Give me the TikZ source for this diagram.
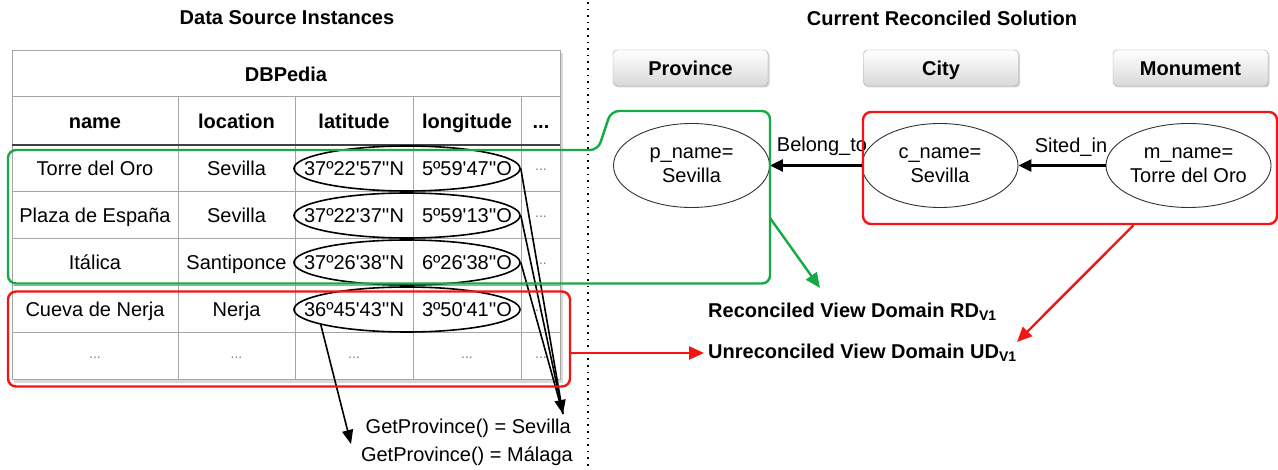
\documentclass[tikz,border=0pt]{standalone}
\usepackage{fontspec}
\setmainfont{Liberation Sans}
\usetikzlibrary{arrows.meta,shapes.geometric,shadows}
\definecolor{gboxc}{RGB}{20,170,70}
\definecolor{rboxc}{RGB}{245,20,20}
\definecolor{tlinec}{RGB}{165,165,165}
\newcommand{\tq}{\textquotesingle}
\begin{document}
\fontsize{20}{24}\selectfont
\begin{tikzpicture}[x=1pt,y=-1pt,
  titletext/.style={font=\bfseries},
  cell/.style={inner sep=0pt,text height=14.4pt,text depth=0pt},
  hcell/.style={inner sep=0pt,font=\bfseries,text height=14.4pt,text depth=0pt},
  dotcell/.style={inner sep=0pt,text=gray,font=\fontsize{14}{16}\selectfont},
  latell/.style={ellipse,draw,line width=1.6pt,minimum width=226pt,minimum height=45pt,inner sep=0pt},
  cat/.style={rounded corners=4pt,draw=gray!70,top color=white,bottom color=gray!30,minimum width=155pt,minimum height=36pt,font=\bfseries,text height=14.4pt,text depth=0pt,inner ysep=0pt,drop shadow={shadow xshift=1.5pt,shadow yshift=-1.5pt,opacity=.35}},
  inst/.style={ellipse,draw=black!80,fill=white,line width=0.9pt,minimum width=156pt,minimum height=84pt,inner sep=0pt,align=center},
  rel/.style={line width=2.5pt,-{Triangle[length=13pt,width=12pt]}},
  blk/.style={line width=1.6pt},
  blkarr/.style={line width=1.6pt,-{Triangle[length=14pt,width=11pt]}},
  gline/.style={draw=gboxc,line width=2.4pt,rounded corners=8pt},
  garr/.style={draw=gboxc,line width=2.4pt,-{Triangle[length=15pt,width=13pt]}},
  rarr/.style={draw=rboxc,line width=2.4pt,-{Triangle[length=15pt,width=13pt]}},
  rboxst/.style={draw=rboxc,line width=2.4pt,rounded corners=8pt,inner sep=0pt},
  lbl/.style={inner sep=0pt}
]
\useasboundingbox (0,0) rectangle (1278,470);

% separator
\draw[line width=1.6pt,dash pattern=on 1.6pt off 5pt] (588,2) -- (588,470);

% titles
\node[titletext] (ttl1) at (287,18) {Data Source Instances};
\node[titletext] (ttl2) at (942,18) {Current Reconciled Solution};

% table
\fill[gray!30] (14,53) rectangle (563,383);
\fill[white] (12,51) rectangle (560,380);
\draw[tlinec,line width=1pt] (12,51) rectangle (560,380);
\draw[tlinec,line width=1pt] (12,97) -- (560,97) (12,191.5) -- (560,191.5) (12,239) -- (560,239) (12,286) -- (560,286) (12,333) -- (560,333);
\draw[tlinec,line width=1pt] (178,97) -- (178,380) (295,97) -- (295,380) (413,97) -- (413,380) (521.5,97) -- (521.5,380);
\draw[black!75,line width=2.5pt] (12,145) -- (560,145);

\node[hcell] (tdb) at (286,74) {DBPedia};
\node[hcell] (h1) at (95,121) {name};
\node[hcell] (h2) at (236.5,121) {location};
\node[hcell] (h3) at (354,121) {latitude};
\node[hcell] (h4) at (467,121) {longitude};
\node[hcell] (h5) at (541,121) {...};

\node[cell] (a1) at (95,168) {Torre del Oro};
\node[cell] (a2) at (236.5,168) {Sevilla};
\node[cell] (a3) at (354,168) {37º22\tq57\tq\tq N};
\node[cell] (a4) at (467,168) {5º59\tq47\tq\tq O};
\node[dotcell] (a5) at (541,170) {...};

\node[cell] (b1) at (95,215) {Plaza de España};
\node[cell] (b2) at (236.5,215) {Sevilla};
\node[cell] (b3) at (354,215) {37º22\tq37\tq\tq N};
\node[cell] (b4) at (467,215) {5º59\tq13\tq\tq O};
\node[dotcell] (b5) at (541,217) {...};

\node[cell] (c1) at (95,262) {Itálica};
\node[cell] (c2) at (236.5,262) {Santiponce};
\node[cell] (c3) at (354,262) {37º26\tq38\tq\tq N};
\node[cell] (c4) at (467,262) {6º26\tq38\tq\tq O};
\node[dotcell] (c5) at (541,264) {...};

\node[cell] (d1) at (95,309) {Cueva de Nerja};
\node[cell] (d2) at (236.5,309) {Nerja};
\node[cell] (d3) at (354,309) {36º45\tq43\tq\tq N};
\node[cell] (d4) at (467,309) {3º50\tq41\tq\tq O};
\node[dotcell] (d5) at (541,311) {...};

\node[dotcell] (f1) at (95,358) {...};
\node[dotcell] (f2) at (236.5,358) {...};
\node[dotcell] (f3) at (354,358) {...};
\node[dotcell] (f4) at (467,358) {...};
\node[dotcell] (f5) at (541,358) {...};

% ellipses around coordinates
\node[latell] (e1) at (407,168.5) {};
\node[latell] (e2) at (407,215.5) {};
\node[latell] (e3) at (407,262.5) {};
\node[latell] (e4) at (407,309.5) {};

% GetProvince
\node[anchor=east,lbl] (gpS) at (571,428) {GetProvince() = Sevilla};
\node[anchor=east,lbl] (gpM) at (573,456) {GetProvince() = Málaga};
\coordinate (tipS) at (563,414);
\coordinate (tipM) at (351,444);
\draw[blk] (e1.east) -- (tipS);
\draw[blk] (e3.east) -- (tipS);
\draw[blkarr] (e2.east) -- (tipS);
\draw[blkarr] (e4.-170) -- (tipM);

% right side: categories
\node[cat] (catP) at (690.5,68) {Province};
\node[cat] (catC) at (941,68) {City};
\node[cat] (catM) at (1190.5,68) {Monument};

% relation labels
\node[lbl] (lbB) at (822,146) {Belong\_to};
\node[lbl] (lbS) at (1071,147) {Sited\_in};

% instances
\node[inst] (pN) at (691.5,165.5) {p\_name=\\Sevilla};
\node[inst] (cN) at (940,165.5) {c\_name=\\Sevilla};
\node[inst] (mN) at (1188.5,165.5) {m\_name=\\Torre del Oro};
\draw[rel] (cN.west) -- (pN.east);
\draw[rel] (mN.west) -- (cN.east);

% reconciled / unreconciled boxes
\draw[gline] (8,150) -- (598,150) -- (611,111) -- (770,111) -- coordinate[pos=0.62] (gOut) (770,283.5) -- (8,283.5) -- cycle;
\node[rboxst,minimum width=414pt,minimum height=112pt] (rboxR) at (1070,168) {};
\node[rboxst,minimum width=562pt,minimum height=95pt] (rtab) at (289,339) {};

% domain labels
\node[anchor=west,lbl,font=\bfseries] (rd) at (708,312) {Reconciled View Domain RD\textsubscript{V1}};
\node[anchor=west,lbl,font=\bfseries] (ud) at (708,353) {Unreconciled View Domain UD\textsubscript{V1}};

\coordinate (gTip) at (820,288);
\coordinate (rTip) at (1017,342);
\draw[garr] (gOut) -- (gTip);
\draw[rarr] (rboxR.-42) -- (rTip);
\draw[rarr] (ud.west -| rtab.east) -- ([xshift=-4pt]ud.west);
\end{tikzpicture}
\end{document}
